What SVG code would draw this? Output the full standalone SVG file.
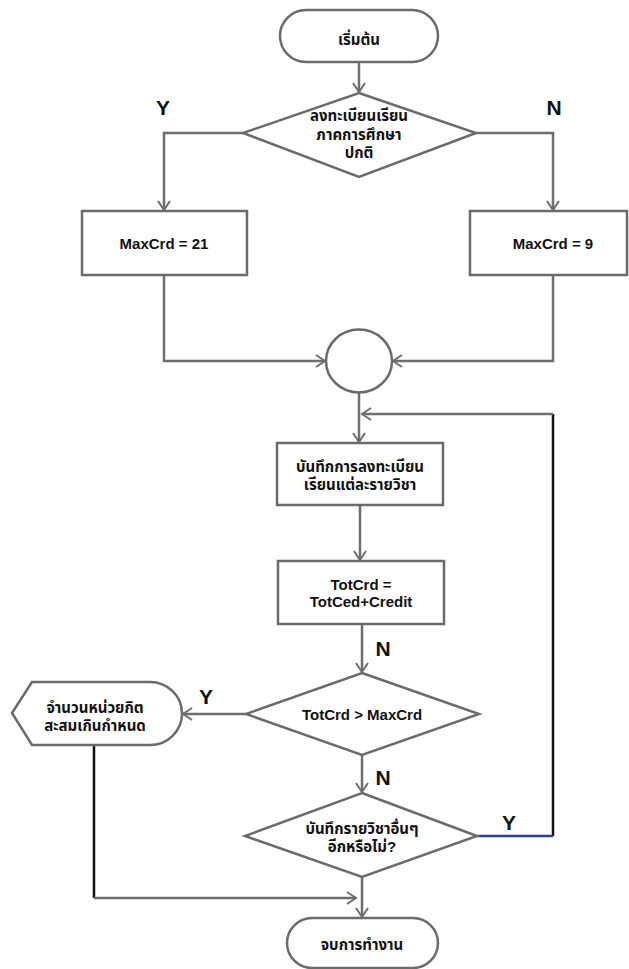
<svg xmlns="http://www.w3.org/2000/svg" width="629" height="969" viewBox="0 0 629 969">
<defs>
<marker id="ah" markerUnits="userSpaceOnUse" markerWidth="14" markerHeight="16" refX="10" refY="7" orient="auto">
<path d="M1,1 L10,7 L1,13" fill="none" stroke="#6e6e6e" stroke-width="2"/>
</marker>
</defs>
<style>
.shape{fill:#ffffff;stroke:#6b6b6b;stroke-width:2.5}
.line{fill:none;stroke:#6e6e6e;stroke-width:2.5}
.black{fill:none;stroke:#111111;stroke-width:2.5}
.blue{fill:none;stroke:#2a3f8f;stroke-width:2.5}
.t{font-family:"Liberation Sans","Noto Sans Thai","Noto Sans",Arial,sans-serif;font-weight:bold;font-size:15px;fill:#111111;text-anchor:middle;dominant-baseline:central}
.lbl{font-family:"Liberation Sans",Arial,sans-serif;font-weight:bold;font-size:21px;fill:#111111;text-anchor:middle;dominant-baseline:central}
</style>
<rect width="629" height="969" fill="#ffffff"/>
<g id="connectors">
<path class="line" d="M359,62 V92" marker-end="url(#ah)"/>
<path class="line" d="M243,133 H164 V210" marker-end="url(#ah)"/>
<path class="line" d="M476,133 H553 V210" marker-end="url(#ah)"/>
<path class="line" d="M164,275 V361 H325" marker-end="url(#ah)"/>
<path class="line" d="M553,275 V361 H393" marker-end="url(#ah)"/>
<path class="line" d="M359,393 V442" marker-end="url(#ah)"/>
<path class="black" d="M553,836 V414"/>
<path class="line" d="M553,414 H362" marker-end="url(#ah)"/>
<path class="blue" d="M477,836 H553"/>
<path class="line" d="M360,505 V560" marker-end="url(#ah)"/>
<path class="line" d="M362,624 V672" marker-end="url(#ah)"/>
<path class="line" d="M246,714 H183" marker-end="url(#ah)"/>
<path class="line" d="M362,755 V792" marker-end="url(#ah)"/>
<path class="black" d="M94,745 V898"/>
<path class="line" d="M94,898 H356" marker-end="url(#ah)"/>
<path class="line" d="M362,877 V917" marker-end="url(#ah)"/>
<text class="lbl" x="163" y="107">Y</text>
<text class="lbl" x="554" y="107">N</text>
<text class="lbl" x="383" y="648">N</text>
<text class="lbl" x="206" y="696">Y</text>
<text class="lbl" x="383" y="777">N</text>
<text class="lbl" x="509" y="822">Y</text>
</g>
<g id="start">
<rect class="shape" x="280" y="10" width="158" height="52" rx="26"/>
<text class="t" x="359" y="39">เริ่มต้น</text>
</g>
<g id="decision1">
<polygon class="shape" points="359,93 476,133 359,177 243,133"/>
<text class="t" x="359" y="115">ลงทะเบียนเรียน</text>
<text class="t" x="359" y="134">ภาคการศึกษา</text>
<text class="t" x="359" y="152">ปกติ</text>
</g>
<g id="maxcrd21">
<rect class="shape" x="82" y="211" width="165" height="64"/>
<text class="t" x="164" y="243">MaxCrd = 21</text>
</g>
<g id="maxcrd9">
<rect class="shape" x="470" y="211" width="157" height="64"/>
<text class="t" x="553" y="243">MaxCrd = 9</text>
</g>
<g id="connector-circle">
<ellipse class="shape" cx="359" cy="361" rx="33" ry="31.5"/>
</g>
<g id="record">
<rect class="shape" x="277" y="443" width="166" height="62"/>
<text class="t" x="360" y="466">บันทึกการลงทะเบียน</text>
<text class="t" x="360" y="484">เรียนแต่ละรายวิชา</text>
</g>
<g id="totcrd">
<rect class="shape" x="278" y="561" width="166" height="63"/>
<text class="t" x="361" y="584">TotCrd =</text>
<text class="t" x="361" y="601">TotCed+Credit</text>
</g>
<g id="decision2">
<polygon class="shape" points="362,673 479,714 362,755 246,714"/>
<text class="t" x="362" y="714">TotCrd &gt; MaxCrd</text>
</g>
<g id="display">
<path class="shape" d="M12,713 L32,682 H150 A32,31.5 0 0 1 150,745 H32 Z"/>
<text class="t" x="95" y="707">จำนวนหน่วยกิต</text>
<text class="t" x="95" y="725">สะสมเกินกำหนด</text>
</g>
<g id="decision3">
<polygon class="shape" points="362,793 477,836 362,877 245,836"/>
<text class="t" x="362" y="828">บันทึกรายวิชาอื่นๆ</text>
<text class="t" x="362" y="846">อีกหรือไม่?</text>
</g>
<g id="end">
<rect class="shape" x="287" y="918" width="151" height="50" rx="25"/>
<text class="t" x="362" y="944">จบการทำงาน</text>
</g>
</svg>
